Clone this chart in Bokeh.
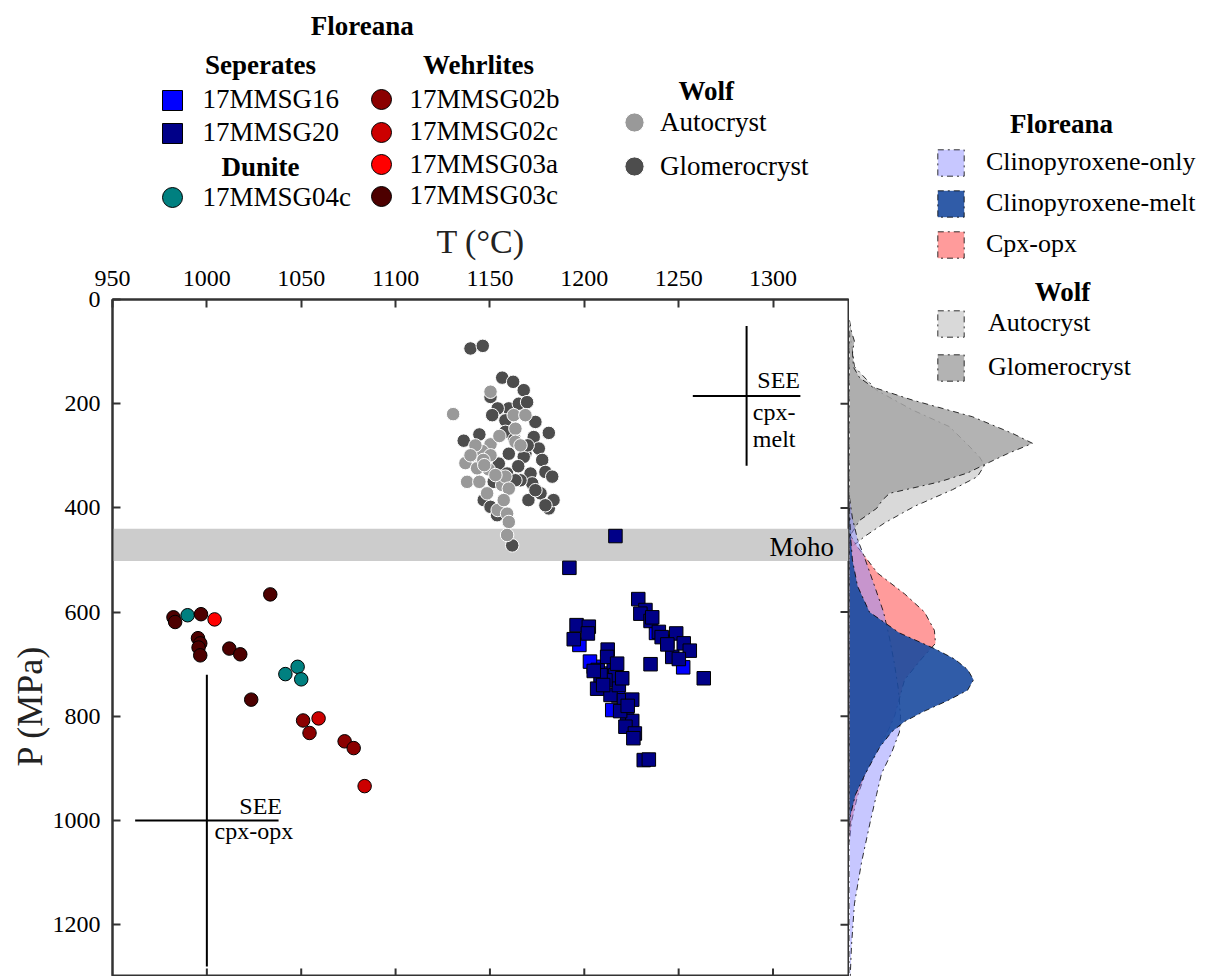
import numpy as np
from bokeh.plotting import figure
from bokeh.layouts import row, column
from bokeh.models import Range1d, SingleIntervalTicker, Legend, LegendItem, Label, BoxAnnotation, Title
from bokeh.embed import file_html
from bokeh.resources import INLINE

FONT = "Liberation Serif"

# ---------------- data ----------------
# Floreana separates (cpx-melt)
s16_T = [1197.4, 1205.0, 1214.8, 1252.4, 1244.0, 1203.0, 1209.0, 1238.0, 1218.0]
s16_P = [663, 705, 788, 706, 657, 695, 718, 640, 760]
s20_T = [1216.5, 1192.1, 1228.6, 1232.4, 1229.7, 1235.1, 1239.5, 1248.7, 1252.7, 1255.9,
         1246.6, 1250.1, 1235.1, 1263.3, 1195.9, 1202.4, 1201.9, 1194.4, 1212.4, 1207.1,
         1215.6, 1206.8, 1213.9, 1218.3, 1221.0, 1225.4, 1222.7, 1225.4, 1221.8, 1226.8,
         1231.5, 1234.2, 1212.1, 1216.5, 1220.1, 1211.2, 1208.6, 1217.4, 1205.0, 1210.0,
         1219.0, 1223.0, 1226.0, 1241.0, 1244.0, 1236.0]
s20_P = [454, 515, 575, 596, 603, 617, 638, 641, 660, 674,
         686, 690, 700, 727, 625, 628, 641, 652, 672, 711,
         704, 747, 759, 740, 769, 768, 801, 809, 820, 833,
         884, 883, 686, 721, 727, 731, 721, 699, 713, 740,
         790, 780, 842, 648, 662, 610]
# Floreana dunite
d04c_T = [989.8, 1048.1, 1041.6, 1050.0]
d04c_P = [606, 705, 719, 729]
# Floreana wehrlites
w02b_T = [1051.0, 1054.4, 1073.0, 1077.8]
w02b_P = [808, 832, 848, 861]
w02c_T = [1059.2, 1083.6]
w02c_P = [804, 934]
w03a_T = [1004.1]
w03a_P = [614]
w03c_T = [1033.6, 982.3, 983.2, 996.9, 995.3, 996.5, 995.6, 996.5, 1011.9, 1017.7, 1023.5]
w03c_P = [566, 610, 619, 604, 650, 660, 668, 683, 670, 681, 768]
# Wolf
glom_T = [1139.7, 1146.2, 1156.5, 1162.3, 1167.9, 1150.3, 1160.0, 1165.3, 1169.7, 1154.1,
          1151.2, 1158.2, 1174.1, 1181.2, 1144.4, 1136.1, 1158.2, 1173.2, 1175.9, 1168.8,
          1160.0, 1177.7, 1179.4, 1183.0, 1171.5, 1172.4, 1176.8, 1181.2, 1166.2, 1154.7,
          1159.1, 1163.5, 1146.7, 1150.3, 1153.8, 1161.8, 1167.9, 1183.7, 1179.4, 1170.4,
          1174.1, 1165.0, 1170.0, 1163.0, 1140.0, 1152.0]
glom_P = [94, 89, 150, 158, 174, 187, 209, 200, 197, 209,
          222, 232, 235, 256, 259, 271, 254, 264, 286, 296,
          296, 308, 331, 340, 334, 353, 372, 401, 347, 315,
          334, 347, 385, 398, 414, 472, 302, 385, 395, 385,
          366, 320, 280, 268, 300, 350]
auto_T = [1150.3, 1130.5, 1162.6, 1168.8, 1163.5, 1163.5, 1150.3, 1145.9, 1142.3, 1137.0,
          1149.3, 1143.2, 1137.9, 1144.4, 1156.5, 1148.5, 1154.1, 1158.2, 1160.0, 1157.3,
          1159.1, 1160.0, 1159.1, 1150.3, 1139.7, 1166.2, 1152.9, 1146.5, 1155.0, 1147.0]
auto_P = [177, 220, 222, 222, 248, 273, 278, 291, 280, 314,
          326, 324, 350, 350, 356, 372, 404, 340, 363, 385,
          411, 427, 452, 299, 299, 280, 337, 308, 262, 318]

# density curves (relative density vs pressure)
kde_glom_P = [40, 62, 80, 100, 130, 150, 168, 193, 225, 257, 276, 296, 315, 333, 350, 362, 372, 385, 401, 424, 449, 470]
kde_glom_d = [0, .011, .027, .016, .022, .055, .126, .344, .672, .891, 1.0, .863, .749, .645, .492, .344, .219, .18, .148, .055, .011, 0]
kde_auto_P = [60, 97, 129, 174, 212, 244, 276, 302, 318, 340, 365, 397, 429, 455, 474, 490]
kde_auto_d = [0, .016, .027, .148, .344, .546, .639, .71, .738, .699, .563, .355, .191, .082, .016, 0]
kde_only_P = [380, 420, 460, 500, 550, 600, 650, 700, 750, 800, 830, 870, 910, 950, 1000, 1080, 1160, 1240, 1300, 1330]
kde_only_d = [0, .016, .044, .087, .137, .186, .219, .246, .268, .279, .273, .23, .175, .148, .115, .066, .027, .011, .004, 0]
kde_opx_P = [450, 475, 525, 565, 600, 635, 660, 690, 730, 800, 830, 870, 910, 953, 1002, 1040]
kde_opx_d = [0, .044, .153, .301, .41, .464, .47, .393, .301, .246, .208, .142, .087, .044, .011, 0]
kde_melt_P = [400, 450, 500, 550, 600, 640, 670, 690, 710, 730, 750, 770, 790, 810, 830, 860, 910, 950, 990, 1020]
kde_melt_d = [0, .005, .016, .044, .109, .273, .464, .574, .645, .678, .645, .536, .41, .301, .23, .164, .087, .033, .005, 0]

# standard errors of estimate (cross centres and half-widths)
see_T = [1286, 1000]
see_P = [185, 1000]
see_dT = [28.5, 38]
see_dP = [134, 280]

moho = (440, 502)
x_ticks = [1000, 1050, 1100, 1150, 1200, 1250, 1300]
y_ticks = [200, 400, 600, 800, 1000, 1200]
T_MIN, T_MAX = 950, 1340
P_MAX = 1299.4

AX = "#333333"
COMMON = dict(output_backend="svg", toolbar_location=None, background_fill_color="white",
              border_fill_color="white")
LEG_H = 210

# ---------------- main T-P plot ----------------
p = figure(width=849, height=976 - LEG_H, x_range=Range1d(T_MIN, T_MAX), y_range=Range1d(P_MAX, 0),
           x_axis_location="above", y_axis_location="left",
           min_border_left=112, min_border_top=299 - LEG_H, min_border_right=1, min_border_bottom=0,
           outline_line_color=AX, outline_line_width=2, **COMMON)
p.grid.visible = False

xa = p.xaxis[0]
xa.ticker = SingleIntervalTicker(interval=50, num_minor_ticks=0)
ya = p.yaxis[0]
ya.ticker = SingleIntervalTicker(interval=200, num_minor_ticks=0)
for ax in (xa, ya):
    ax.major_tick_in = 8
    ax.major_tick_out = 0
    ax.minor_tick_line_color = None
    ax.axis_line_width = 2
    ax.axis_line_color = AX
    ax.major_tick_line_width = 2
    ax.major_tick_line_color = AX
    ax.major_label_text_font = FONT
    ax.major_label_text_font_size = "24px"
    ax.major_label_text_color = "black"
xa.major_label_standoff = 14
ya.major_label_standoff = 12
xa.axis_label = "T (°C)"
xa.axis_label_text_font = FONT
xa.axis_label_text_font_size = "34px"
xa.axis_label_text_font_style = "normal"
xa.axis_label_text_color = "#222222"
xa.axis_label_standoff = 8
p.add_layout(Title(text="P (MPa)", align="left", offset=210, standoff=0, text_font=FONT,
                   text_font_size="36px", text_font_style="normal", text_color="#222222"), "left")

p.add_layout(BoxAnnotation(left=T_MIN, right=T_MAX, top=moho[0], bottom=moho[1], fill_color="#cccccc",
                           fill_alpha=1, line_color=None, level="underlay"))

# inner ticks on the right and bottom edges
p.segment(x0=[T_MAX] * len(y_ticks), x1=[T_MAX - 4.24] * len(y_ticks), y0=y_ticks, y1=y_ticks,
          line_color=AX, line_width=2)
p.segment(x0=x_ticks, x1=x_ticks, y0=[P_MAX] * len(x_ticks), y1=[P_MAX - 15.4] * len(x_ticks),
          line_color=AX, line_width=2)

# SEE crosses
sT, sP, sdT, sdP = map(np.array, (see_T, see_P, see_dT, see_dP))
p.segment(x0=sT - sdT, x1=sT + sdT, y0=sP, y1=sP, line_color="black", line_width=2)
p.segment(x0=sT, x1=sT, y0=sP - sdP, y1=sP + sdP, line_color="black", line_width=2)

MS = 13.5
STY = {
    "glom": dict(marker="circle", fill_color="#4d4d4d", line_color="white"),
    "auto": dict(marker="circle", fill_color="#999999", line_color="white"),
    "16": dict(marker="square", fill_color="#0000ff", line_color="black"),
    "20": dict(marker="square", fill_color="#000088", line_color="black"),
    "04c": dict(marker="circle", fill_color="#008080", line_color="black"),
    "03c": dict(marker="circle", fill_color="#4d0000", line_color="black"),
    "02b": dict(marker="circle", fill_color="#8b0000", line_color="black"),
    "02c": dict(marker="circle", fill_color="#cc0000", line_color="black"),
    "03a": dict(marker="circle", fill_color="#ff0000", line_color="black"),
}
SERIES = [("glom", glom_T, glom_P), ("auto", auto_T, auto_P), ("16", s16_T, s16_P),
          ("20", s20_T, s20_P), ("04c", d04c_T, d04c_P), ("03c", w03c_T, w03c_P),
          ("02b", w02b_T, w02b_P), ("02c", w02c_T, w02c_P), ("03a", w03a_T, w03a_P)]
for key, xs, ys in SERIES:
    p.scatter(xs, ys, size=MS, line_width=1, **STY[key])


def add_label(fig, x, y, text, size, bold=False, align="center", color="black"):
    fig.add_layout(Label(x=x, y=y, text=text, text_font=FONT, text_font_size=f"{size}px",
                         text_font_style="bold" if bold else "normal", text_align=align,
                         text_baseline="middle", text_color=color))


add_label(p, 1332.3, 474.8, "Moho", 27, align="right")
add_label(p, 1314.3, 155.0, "SEE", 24, align="right")
add_label(p, 1289.3, 215.7, "cpx-", 24, align="left")
add_label(p, 1289.3, 266.8, "melt", 24, align="left")
add_label(p, 1039.8, 972.6, "SEE", 24, align="right")
add_label(p, 1004.1, 1020.0, "cpx-opx", 24, align="left")


def add_legend(fig, items, loc, glyph, spacing, standoff, size):
    fig.add_layout(Legend(items=[LegendItem(label=l, renderers=[r]) for l, r in items], location=loc,
                          glyph_width=glyph, glyph_height=glyph, spacing=spacing, padding=0, margin=0,
                          label_standoff=standoff, border_line_color=None, background_fill_alpha=0,
                          label_text_font=FONT, label_text_font_size=size, label_text_color="black",
                          label_height=10, label_width=10))


# ---------------- legend panel above the plot ----------------
# frame spans the same horizontal extent as the plot frame; coordinates are page pixels
lg = figure(width=849, height=LEG_H, x_range=Range1d(112, 848), y_range=Range1d(LEG_H, 0),
            x_axis_location=None, y_axis_location=None, min_border_left=112, min_border_right=1,
            min_border_top=0, min_border_bottom=0, outline_line_color=None, **COMMON)
lg.grid.visible = False
# legend proxies carry the real series (they fall outside this panel's ranges, so only the key shows)
proxy = {key: lg.scatter(xs, ys, size=MS, line_width=1, **STY[key]) for key, xs, ys in SERIES}

LEG_ITEMS = [  # label, series key, centre x, centre y, glyph box, standoff
    ("17MMSG16", "16", 171.5, 99.5, 50, 6),
    ("17MMSG20", "20", 171.5, 132.5, 50, 6),
    ("17MMSG04c", "04c", 171.5, 197.0, 50, 6),
    ("17MMSG02b", "02b", 381.4, 99.0, 50, 3),
    ("17MMSG02c", "02c", 381.4, 131.7, 50, 3),
    ("17MMSG03a", "03a", 381.4, 164.3, 50, 3),
    ("17MMSG03c", "03c", 381.4, 195.7, 50, 3),
    ("Autocryst", "auto", 634.0, 122.3, 48, 2),
    ("Glomerocryst", "glom", 634.0, 166.0, 48, 2),
]
for label, key, cx, cy, g, so in LEG_ITEMS:
    add_legend(lg, [(label, proxy[key])], (cx - g / 2 - 112, LEG_H - (cy + g / 2)), g, 0, so, "27px")

add_label(lg, 361.7, 25, "Floreana", 27, bold=True)
add_label(lg, 260, 64, "Seperates", 27, bold=True)
add_label(lg, 478, 64, "Wehrlites", 27, bold=True)
add_label(lg, 260, 166, "Dunite", 27, bold=True)
add_label(lg, 705.7, 90, "Wolf", 27, bold=True)

# ---------------- density panel on the right ----------------
k = figure(width=359, height=976, x_range=Range1d(0, 1.9617), y_range=Range1d(P_MAX, -573.9),
           x_axis_location=None, y_axis_location=None, min_border=0, outline_line_color=None, **COMMON)
k.grid.visible = False
KL = dict(line_color="black", line_dash="dashdot", line_width=1, line_alpha=0.8)
r_kauto = k.patch(kde_auto_d, kde_auto_P, fill_color="#cccccc", fill_alpha=0.75, **KL)
r_kglom = k.patch(kde_glom_d, kde_glom_P, fill_color="#a6a6a6", fill_alpha=0.85, **KL)
r_kopx = k.patch(kde_opx_d, kde_opx_P, fill_color="#ff7070", fill_alpha=0.7, **KL)
r_konly = k.patch(kde_only_d, kde_only_P, fill_color="#9090ff", fill_alpha=0.5, **KL)
r_kmelt = k.patch(kde_melt_d, kde_melt_P, fill_color="#1a4a9e", fill_alpha=0.9, **KL)
add_legend(k, [("Clinopyroxene-only", r_konly), ("Clinopyroxene-melt", r_kmelt), ("Cpx-opx", r_kopx)],
           (85, 715.5), 33, 8, 19, "26px")
add_legend(k, [("Autocryst", r_kauto), ("Glomerocryst", r_kglom)], (85, 592.5), 33, 11, 21, "26px")
add_label(k, 1.1585, -335.9, "Floreana", 27, bold=True)
add_label(k, 1.1639, -14.0, "Wolf", 27, bold=True)

layout = row(column(lg, p, spacing=0), k, spacing=0)
open("out.html", "w").write(file_html(layout, INLINE))
